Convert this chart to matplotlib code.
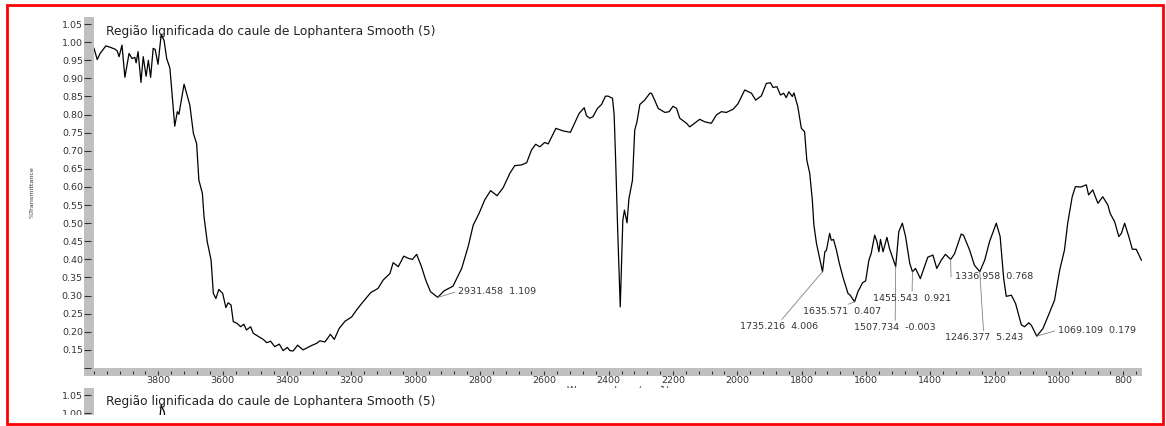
import numpy as np
import matplotlib
matplotlib.use('Agg')
import matplotlib.pyplot as plt
from matplotlib.patches import Rectangle
from matplotlib.transforms import Bbox, TransformedBbox
from matplotlib.ticker import FixedLocator, FixedFormatter, MultipleLocator, NullFormatter

plt.rcParams['font.family'] = 'DejaVu Sans'

# smoothed FTIR spectrum, wavenumber (cm-1) vs transmittance
wavenumber = [
    4000, 3990, 3981, 3963, 3950, 3935, 3928, 3922, 3913, 3904, 3891, 3882, 3873, 3869,
    3863, 3854, 3847, 3838, 3831, 3824, 3816, 3810, 3801, 3791, 3782, 3774, 3764, 3749,
    3741, 3736, 3720, 3702, 3691, 3681, 3674, 3663, 3658, 3648, 3636, 3629, 3621, 3612,
    3600, 3590, 3583, 3574, 3567, 3555, 3544, 3534, 3526, 3513, 3505, 3474, 3463, 3451,
    3438, 3424, 3412, 3399, 3391, 3381, 3367, 3350, 3324, 3308, 3298, 3282, 3265, 3253,
    3238, 3220, 3199, 3184, 3168, 3140, 3117, 3101, 3080, 3070, 3054, 3037, 3023, 3010,
    2997, 2982, 2968, 2954, 2931.458, 2912, 2884, 2857, 2837, 2821, 2803, 2785, 2767,
    2747, 2728, 2707, 2692, 2671, 2655, 2640, 2627, 2614, 2599, 2588, 2564, 2542, 2519,
    2492, 2476, 2469, 2459, 2449, 2435, 2422, 2410, 2402, 2388, 2383, 2378, 2372, 2364,
    2356, 2351, 2343, 2337, 2326, 2319, 2312, 2303, 2288, 2272, 2267, 2257, 2246, 2225,
    2212, 2200, 2189, 2179, 2158, 2148, 2117, 2101, 2081, 2065, 2050, 2034, 2013, 1998,
    1977, 1956, 1943, 1925, 1910, 1897, 1889, 1877, 1866, 1856, 1848, 1840, 1829, 1824,
    1812, 1801, 1791, 1784, 1775, 1767, 1762, 1754, 1735.216, 1728, 1723, 1713, 1708,
    1701, 1692, 1684, 1672, 1656, 1649, 1635.571, 1625, 1611, 1601, 1591, 1584, 1573,
    1566, 1560, 1555, 1547, 1535, 1527, 1507.734, 1498, 1487, 1477, 1464, 1455.543,
    1446, 1431, 1418, 1408, 1392, 1380, 1366, 1353, 1336.958, 1325, 1304, 1297, 1278,
    1263, 1246.377, 1231, 1216, 1195, 1183, 1172, 1164, 1148, 1135, 1117, 1107, 1094,
    1086, 1069.109, 1050, 1035, 1014, 998, 983, 973, 959, 949, 931, 924, 915, 908, 895,
    887, 879, 864, 848, 841, 827, 814, 806, 796, 783, 772, 760, 744,
]
transmittance = [
    0.983, 0.952, 0.969, 0.990, 0.986, 0.981, 0.976, 0.960, 0.992, 0.903, 0.969, 0.955, 0.958, 0.943,
    0.974, 0.889, 0.960, 0.906, 0.950, 0.903, 0.983, 0.980, 0.939, 1.022, 1.004, 0.955, 0.928, 0.768,
    0.808, 0.801, 0.884, 0.826, 0.748, 0.720, 0.619, 0.582, 0.518, 0.449, 0.398, 0.306, 0.292, 0.317,
    0.306, 0.267, 0.280, 0.274, 0.228, 0.223, 0.214, 0.221, 0.205, 0.214, 0.196, 0.179, 0.170, 0.174,
    0.159, 0.166, 0.148, 0.157, 0.148, 0.147, 0.163, 0.150, 0.162, 0.168, 0.175, 0.172, 0.193, 0.179,
    0.209, 0.229, 0.241, 0.260, 0.278, 0.308, 0.320, 0.343, 0.361, 0.391, 0.380, 0.409, 0.403, 0.400,
    0.414, 0.380, 0.341, 0.311, 0.295, 0.313, 0.326, 0.375, 0.435, 0.495, 0.527, 0.565, 0.590,
    0.576, 0.598, 0.638, 0.659, 0.661, 0.667, 0.702, 0.718, 0.711, 0.723, 0.719, 0.762, 0.755, 0.751,
    0.803, 0.819, 0.797, 0.790, 0.794, 0.817, 0.828, 0.851, 0.851, 0.845, 0.800, 0.665, 0.481, 0.269,
    0.508, 0.536, 0.501, 0.568, 0.619, 0.757, 0.780, 0.828, 0.840, 0.859, 0.859, 0.840, 0.817, 0.806,
    0.808, 0.823, 0.817, 0.790, 0.776, 0.766, 0.787, 0.780, 0.776, 0.799, 0.808, 0.806, 0.815, 0.830,
    0.868, 0.859, 0.840, 0.852, 0.886, 0.888, 0.875, 0.877, 0.854, 0.859, 0.847, 0.863, 0.850, 0.860,
    0.822, 0.762, 0.753, 0.674, 0.638, 0.565, 0.495, 0.444, 0.366, 0.421, 0.425, 0.472, 0.453,
    0.455, 0.426, 0.393, 0.352, 0.306, 0.301, 0.283, 0.311, 0.335, 0.341, 0.398, 0.416, 0.467,
    0.449, 0.421, 0.455, 0.421, 0.461, 0.430, 0.380, 0.477, 0.500, 0.463, 0.389, 0.366,
    0.375, 0.347, 0.380, 0.406, 0.412, 0.375, 0.398, 0.414, 0.400, 0.415, 0.470, 0.467, 0.426,
    0.384, 0.366, 0.398, 0.449, 0.500, 0.463, 0.347, 0.298, 0.301, 0.278, 0.219, 0.214, 0.225,
    0.218, 0.188, 0.209, 0.241, 0.287, 0.370, 0.426, 0.500, 0.573, 0.601, 0.600, 0.603, 0.606, 0.578, 0.592,
    0.573, 0.555, 0.573, 0.550, 0.527, 0.504, 0.463, 0.472, 0.500, 0.463, 0.428, 0.428, 0.398,
]

# picked peaks: position and peak value printed next to it
peak_wavenumbers = [2931.458, 1735.216, 1635.571, 1507.734, 1455.543, 1336.958, 1246.377, 1069.109]
peak_values = ['1.109', '4.006', '0.407', '-0.003', '0.921', '0.768', '5.243', '0.179']

title = 'Região lignificada do caule de Lophantera Smooth (5)'
y_ticks = [0.10, 0.15, 0.20, 0.25, 0.30, 0.35, 0.40, 0.45, 0.50, 0.55,
           0.60, 0.65, 0.70, 0.75, 0.80, 0.85, 0.90, 0.95, 1.00, 1.05]
y_tick_labels = ['', '0.15', '0.20', '0.25', '0.30', '0.35', '0.40', '0.45', '0.50', '0.55',
                 '0.60', '0.65', '0.70', '0.75', '0.80', '0.85', '0.90', '0.95', '1.00', '1.05']
x_ticks = [3800, 3600, 3400, 3200, 3000, 2800, 2600, 2400, 2200, 2000, 1800, 1600, 1400, 1200, 1000, 800]

# label placement: offset in pixels from the peak, alignment, where the leader meets the text
label_layout = [
    (20, 6, 'left', (0, 0.5)),
    (-43, -55, 'center', (0.5, 1)),
    (-12.7, -9.7, 'center', (0.5, 1)),
    (-0.5, -61, 'center', (0.5, 1)),
    (-0.4, -26.7, 'center', (0.5, 1)),
    (4.3, -17.3, 'left', (-0.05, 0.45)),
    (3.9, -66, 'center', (0.5, 1)),
    (20.8, 6, 'left', (0, 0.5)),
]

W, H = 1166, 426
GRAY = '#c0c0c0'
INK = '#333333'
SECOND_TOP = 388      # where the next spectrum on the page begins
PAGE_CUT = 415        # the page shows nothing below this line

fig = plt.figure(figsize=(W / 100, H / 100), dpi=100, facecolor='white')


def box(left, top, right, bottom):
    return [left / W, 1 - bottom / H, (right - left) / W, (bottom - top) / H]


def band(left, top, right, bottom):
    r = Rectangle((left / W, 1 - bottom / H), (right - left) / W, (bottom - top) / H,
                  transform=fig.transFigure, facecolor=GRAY, edgecolor='none', zorder=-1)
    fig.add_artist(r)


wn_inc = np.array(wavenumber[::-1])
tr_inc = np.array(transmittance[::-1])


def draw_panel(shift, full=True):
    top, bottom = 17 + shift, 368 + shift
    ax = fig.add_axes(box(94, top, 1142, bottom))
    ax.set_facecolor('white')
    ax.plot(wavenumber, transmittance, color='black', lw=0.9)
    ax.set_xlim(4000, 742)
    ax.set_ylim(0.10, 1.0696)

    for s in ax.spines.values():
        s.set_visible(False)
    ax.spines['left'].set_position(('outward', 2.2))
    ax.spines['bottom'].set_position(('outward', 2.2))

    ticks = y_ticks if full else y_ticks[-2:]
    labels = y_tick_labels if full else y_tick_labels[-2:]
    ax.yaxis.set_major_locator(FixedLocator(ticks))
    ax.yaxis.set_major_formatter(FixedFormatter(labels))
    ax.tick_params(axis='y', direction='out', length=5, width=0.8, color=INK,
                   pad=0.8, labelsize=6.8, labelcolor=INK)
    band(84, top, 94, 376 + shift)

    fig.text(106 / W, 1 - (31 + shift) / H, title, ha='left', va='center',
             fontsize=8.8, color='#222222')

    if not full:
        ax.set_xticks([])
        return ax

    ax.xaxis.set_major_locator(FixedLocator(x_ticks))
    ax.xaxis.set_minor_locator(MultipleLocator(40))
    ax.xaxis.set_minor_formatter(NullFormatter())
    ax.tick_params(axis='x', which='major', direction='out', length=2.9, width=0.8,
                   color=INK, pad=1.0, labelsize=6.8, labelcolor=INK)
    ax.tick_params(axis='x', which='minor', direction='out', length=1.8, width=0.8, color=INK)
    band(84, bottom, 1142, 376 + shift)

    for wn, val, (dx, dy, ha, rel) in zip(peak_wavenumbers, peak_values, label_layout):
        yv = np.interp(wn, wn_inc, tr_inc)
        ax.annotate(f'{wn:.3f}  {val}', xy=(wn, yv), xytext=(dx, dy),
                    textcoords='offset pixels', ha=ha, va='center', fontsize=6.8, color=INK,
                    arrowprops=dict(arrowstyle='-', color='#808080', lw=0.6,
                                    shrinkA=0, shrinkB=0, relpos=rel))

    fig.text(32 / W, 1 - (192 + shift) / H, '%Transmittance', rotation=90,
             ha='center', va='center', fontsize=4.6, color=INK)
    # x title sits under the next spectrum, only its top edge shows
    xt = fig.text(618 / W, 1 - (386 + shift) / H, 'Wavenumbers (cm-1)', ha='center', va='top',
                  fontsize=6.8, color=INK)
    xt.set_clip_box(TransformedBbox(Bbox([[0, 1 - SECOND_TOP / H], [1, 1]]), fig.transFigure))
    xt.set_clip_on(True)
    return ax


draw_panel(0)
draw_panel(SECOND_TOP - 17, full=False)

# blank strip under the second copy, then the red frame
fig.add_artist(Rectangle((0, 0), 1, 1 - PAGE_CUT / H, transform=fig.transFigure,
                         facecolor='white', edgecolor='none', zorder=5))
fig.add_artist(Rectangle((7.3 / W, 1 - 424 / H), (1162.5 - 7.3) / W, (424 - 5.3) / H,
                         transform=fig.transFigure, fill=False, edgecolor='red', lw=2.0, zorder=6))

fig.savefig('out.png', dpi=100, facecolor='white')
